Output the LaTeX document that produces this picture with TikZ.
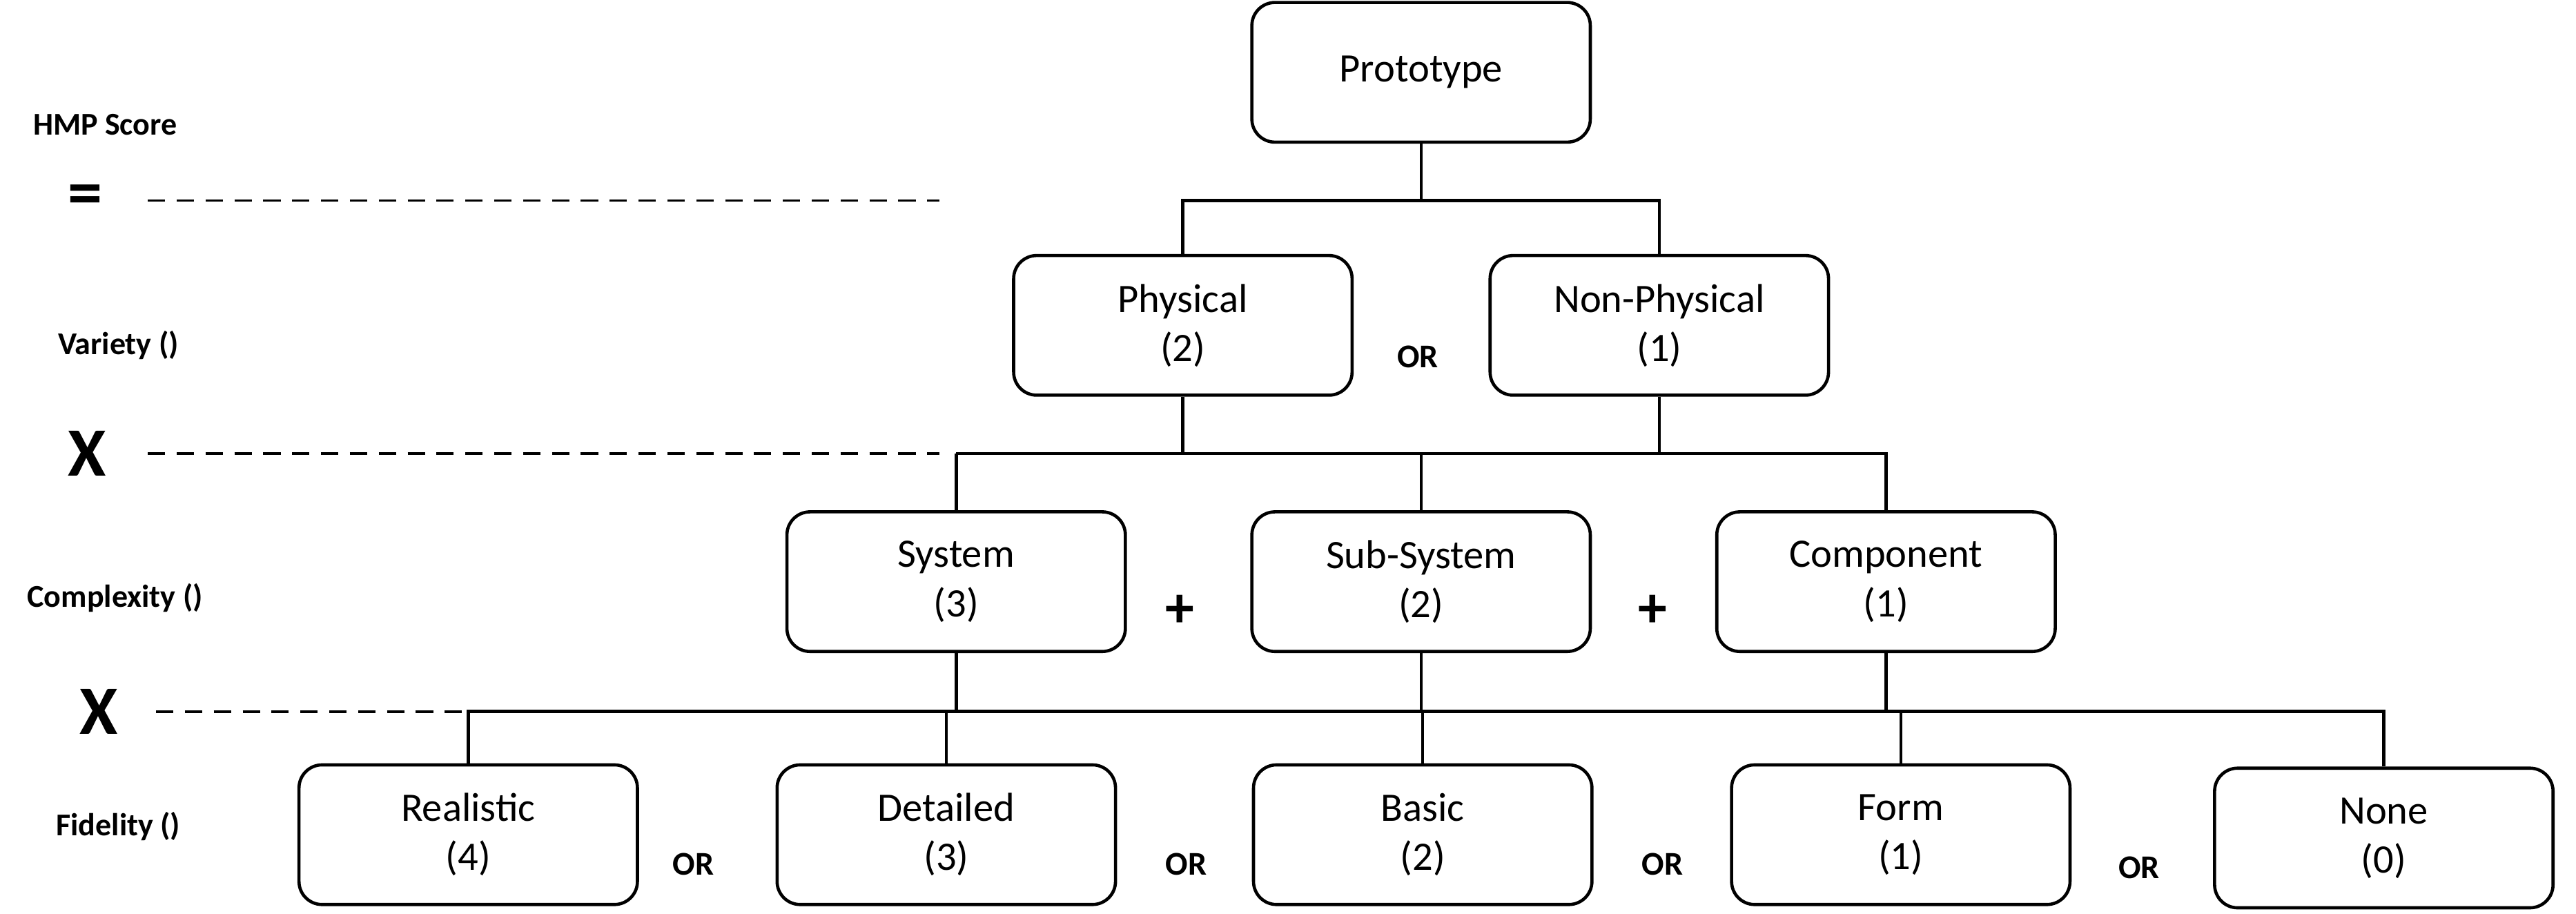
\documentclass[tikz,border=0pt]{standalone}
\usepackage{fontspec}
\setmainfont{Carlito}
\begin{document}
\begin{tikzpicture}[x=0.02cm,y=-0.02cm,
 box/.style={draw,line width=1.1pt,rounded corners=8pt,minimum width=206*0.02cm,minimum height=85*0.02cm,align=center,font=\fontsize{14}{17}\selectfont,inner sep=0pt},
 ln/.style={line width=1.1pt},
 dl/.style={line width=0.9pt,dash pattern=on 6pt off 4pt},
 lab/.style={font=\bfseries\fontsize{11}{13}\selectfont},
 big/.style={font=\bfseries\fontsize{24}{26}\selectfont},
 op/.style={font=\bfseries\fontsize{11.5}{13}\selectfont},
 plus/.style={font=\bfseries\fontsize{20}{22}\selectfont}]
\useasboundingbox (0,0) rectangle (1568,556);
\node[box] (proto) at (865,44) {Prototype};
\node[box] (phys) at (720,198) {Physical\\(2)};
\node[box] (nphys) at (1010,198) {Non-Physical\\(1)};
\node[box] (sys) at (582,354) {System\\(3)};
\node[box] (sub) at (865,354) {Sub-System\\(2)};
\node[box] (comp) at (1148,354) {Component\\(1)};
\node[box] (real) at (285,508) {Realistic\\(4)};
\node[box] (det) at (576,508) {Detailed\\(3)};
\node[box] (bas) at (866,508) {Basic\\(2)};
\node[box] (form) at (1157,508) {Form\\(1)};
\node[box] (none) at (1451,510) {None\\(0)};
\coordinate (j1) at (865,122);
\coordinate (j2) at (865,276);
\coordinate (j3) at (575,433);
\draw[ln] (proto.south) -- (j1);
\draw[ln] (phys.north) |- (j1) -| (nphys.north);
\draw[ln] (phys.south) -- (phys.south|-j2);
\draw[ln] (nphys.south) -- (nphys.south|-j2);
\draw[ln] (sys.north|-j2) -| (comp.north);
\draw[ln] (sys.north|-j2) -- (sys.north);
\draw[ln] (sub.north|-j2) -- (sub.north);
\draw[ln] (sys.south) -- (sys.south|-j3);
\draw[ln] (sub.south) -- (sub.south|-j3);
\draw[ln] (comp.south) -- (comp.south|-j3);
\draw[ln] (real.north) |- (j3) -| (none.north);
\draw[ln] (det.north|-j3) -- (det.north);
\draw[ln] (bas.north|-j3) -- (bas.north);
\draw[ln] (form.north|-j3) -- (form.north);
\coordinate (d1a) at (90,122); \coordinate (d1b) at (572,122);
\coordinate (d2a) at (90,276); \coordinate (d2b) at (572,276);
\coordinate (d3a) at (95,433); \coordinate (d3b) at (530,433);
\draw[dl] (d1a) -- (d1b);
\draw[dl] (d2a) -- (d2b);
\draw[dl] (d3a) -- (d3b);
\node[lab] (l1) at (64,76) {HMP Score};
\node[big] (eq) at (52,122) {=};
\node[lab] (l2) at (72,210) {Variety ()};
\node[big] (x1) at (53,276) {X};
\node[lab] (l3) at (70,364) {Complexity ()};
\node[big] (x2) at (60,433) {X};
\node[lab] (l4) at (72,503) {Fidelity ()};
\node[op] (o1) at (863,217) {OR};
\node[plus] (p1) at (718,372) {+};
\node[plus] (p2) at (1006,372) {+};
\node[op] (o2) at (422,526) {OR};
\node[op] (o3) at (722,526) {OR};
\node[op] (o4) at (1012,526) {OR};
\node[op] (o5) at (1302,528) {OR};
\end{tikzpicture}
\end{document}
